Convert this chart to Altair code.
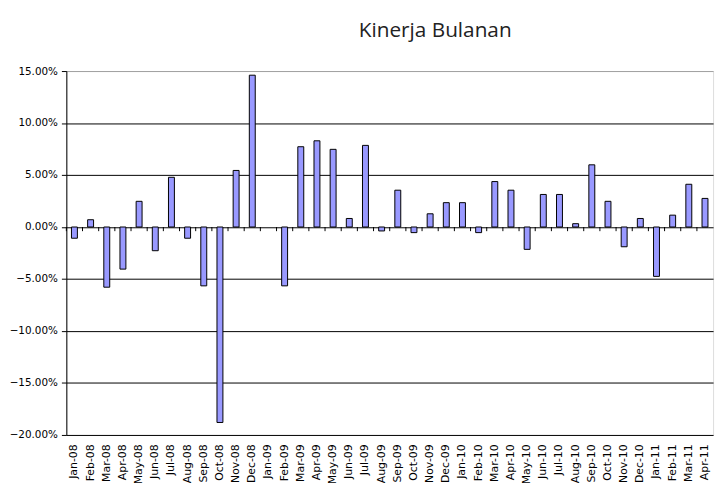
import altair as alt
import pandas as pd

months = [
    "Jan-08", "Feb-08", "Mar-08", "Apr-08", "May-08", "Jun-08", "Jul-08", "Aug-08",
    "Sep-08", "Oct-08", "Nov-08", "Dec-08", "Jan-09", "Feb-09", "Mar-09", "Apr-09",
    "May-09", "Jun-09", "Jul-09", "Aug-09", "Sep-09", "Oct-09", "Nov-09", "Dec-09",
    "Jan-10", "Feb-10", "Mar-10", "Apr-10", "May-10", "Jun-10", "Jul-10", "Aug-10",
    "Sep-10", "Oct-10", "Nov-10", "Dec-10", "Jan-11", "Feb-11", "Mar-11", "Apr-11",
]
returns_pct = [
    -1.08, 0.70, -5.79, -4.05, 2.47, -2.28, 4.78, -1.08,
    -5.66, -18.80, 5.44, 14.60, None, -5.66, 7.72, 8.29,
    7.47, 0.82, 7.85, -0.38, 3.54, -0.54, 1.27, 2.34,
    2.34, -0.54, 4.37, 3.54, -2.15, 3.13, 3.13, 0.32,
    5.98, 2.47, -1.90, 0.82, -4.75, 1.14, 4.11, 2.75,
]
y_ticks = [-0.20, -0.15, -0.10, -0.05, 0.0, 0.05, 0.10, 0.15]

df = pd.DataFrame({
    "month": months,
    "ret": [None if v is None else v / 100 for v in returns_pct],
})

label_font = "DejaVu Sans"

x_axis = alt.Axis(
    title=None, labelAngle=-90, ticks=False, domain=False,
    labelFont=label_font, labelFontSize=11, labelColor="#000",
    labelPadding=9, labelOverlap=False,
)
x_scale = alt.Scale(domain=months, paddingInner=0, paddingOuter=0)

y_enc = alt.Y(
    "ret:Q",
    scale=alt.Scale(domain=[-0.20, 0.15], nice=False, zero=False),
    axis=alt.Axis(
        title=None, values=y_ticks, format=".2%",
        labelFont=label_font, labelFontSize=10.5, labelColor="#000",
        labelPadding=4, tickSize=5, tickColor="#000",
        domainColor="#000", domainWidth=1,
        grid=True, gridWidth=1,
        gridColor={"condition": {"test": "datum.value >= 0.15", "value": "#a0a0a0"}, "value": "#000000"},
    ),
)

base = alt.Chart(df)

bars = base.mark_bar(
    color="#9999FF", stroke="#000000", strokeWidth=1, size=6
).encode(
    x=alt.X("month:N", sort=months, scale=x_scale, axis=x_axis),
    y=y_enc,
)

zero_ticks = base.mark_rule(color="#000000", strokeWidth=1).encode(
    x=alt.X("month:N", sort=months, scale=x_scale, axis=x_axis, bandPosition=0),
    y=alt.datum(0.0),
    y2=alt.datum(-0.004),
)

chart = (
    alt.layer(bars, zero_ticks)
    .properties(
        width=654,
        height=368,
        autosize=alt.AutoSizeParams(type="none"),
        padding={"left": 59, "top": 61, "right": 7, "bottom": 60},
        title=alt.TitleParams(
            "Kinerja Bulanan", anchor="middle", dx=46, offset=25,
            font="Open Sans", fontSize=21, fontWeight="normal", color="#222222",
        ),
    )
    .configure_view(stroke="#a0a0a0", strokeWidth=1)
    .configure(background="white")
)

chart.save("out.html", embed_options={"renderer": "svg", "actions": False})
